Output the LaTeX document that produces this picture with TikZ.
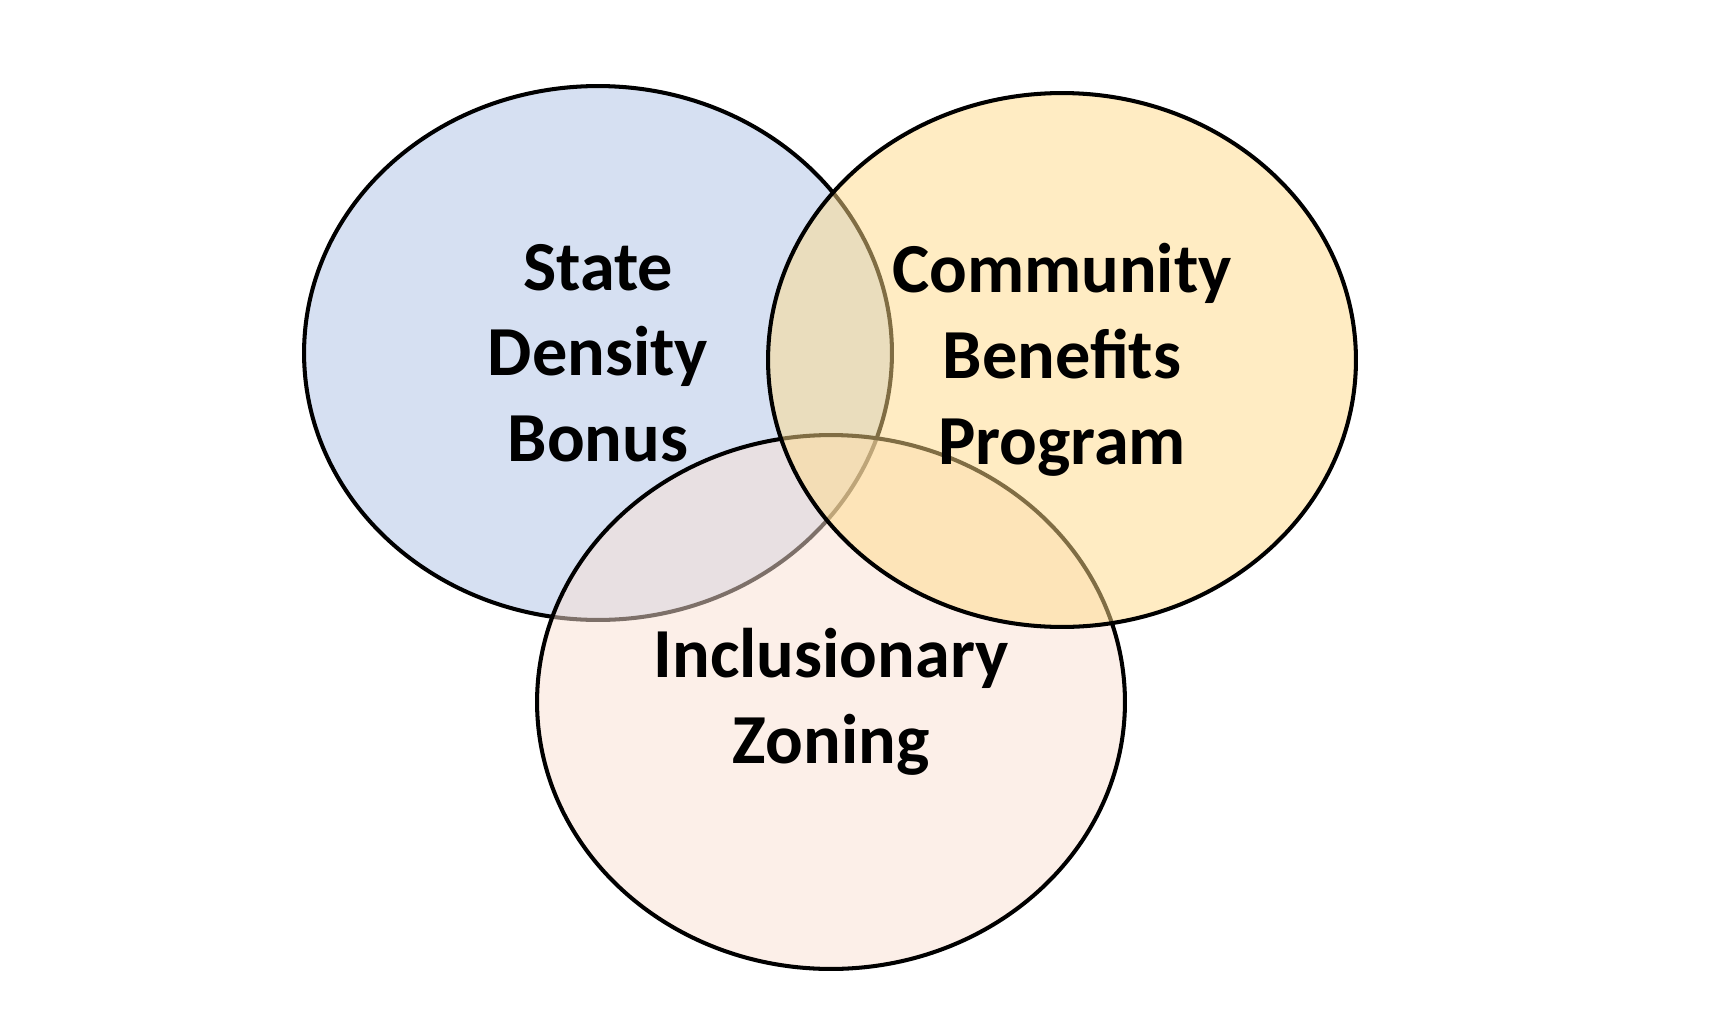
\documentclass[tikz,border=0pt]{standalone}
\usepackage{fontspec}
\setmainfont{Carlito}
\usetikzlibrary{shapes.geometric}
\definecolor{sdbblue}{HTML}{D6E0F2}
\definecolor{izpeach}{HTML}{FBE1D3}
\definecolor{cbpyellow}{HTML}{FFDB89}
\tikzset{
	venn/.style={ellipse, draw=black, line width=2.3pt, minimum width=11.76cm, minimum height=10.68cm,
		inner sep=0pt, align=center, text opacity=1, font=\fontsize{40}{48.8}\selectfont\bfseries},
}
\begin{document}
\begin{tikzpicture}[x=0.02cm, y=-0.02cm]
	\fill[white] (0,0) rectangle (1733,1014);
	\node[venn, fill=sdbblue] (sdb) at (598,353) {State\\Density\\Bonus};
	\node[venn, fill=izpeach, fill opacity=.5] (iz) at (831,702) {Inclusionary\\Zoning};
	\node[venn, fill=cbpyellow, fill opacity=.5] (cbp) at (1062,360) {Community\\Benefits\\Program};
\end{tikzpicture}
\end{document}
